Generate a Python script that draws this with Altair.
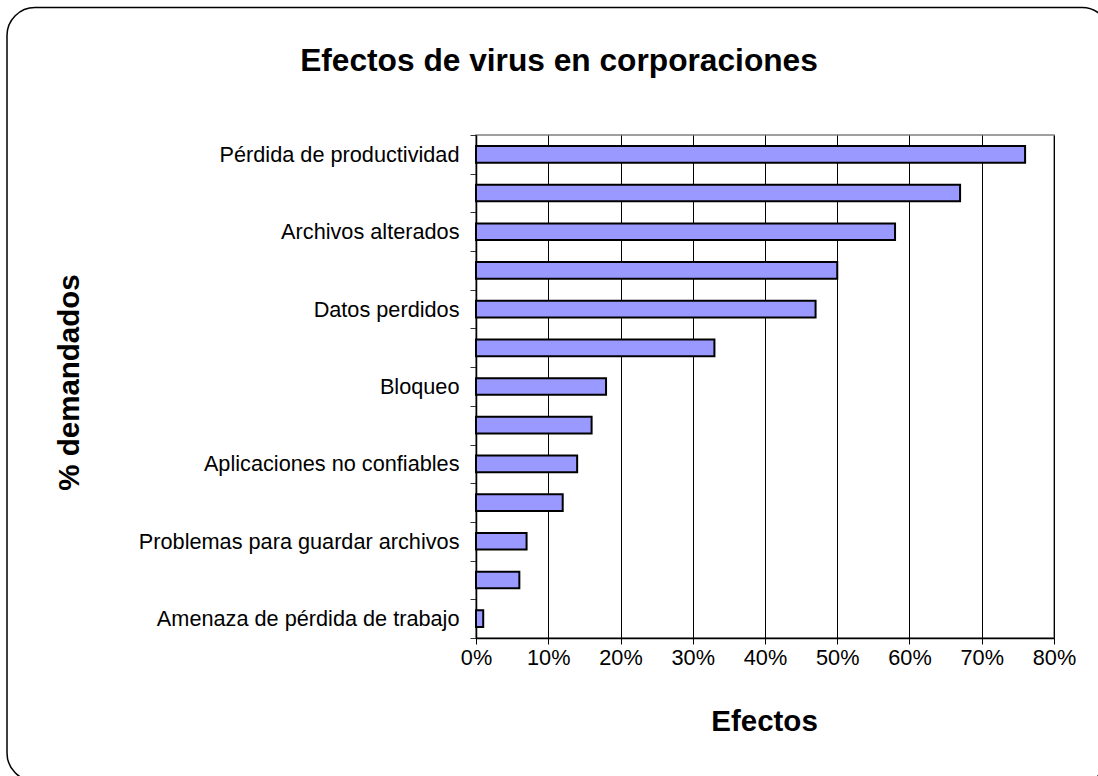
import json
import altair as alt
import pandas as pd

# Effects of viruses on corporations (share of respondents)
efectos = [
    "Pérdida de productividad",
    "",
    "Archivos alterados",
    "",
    "Datos perdidos",
    "",
    "Bloqueo",
    "",
    "Aplicaciones no confiables",
    "",
    "Problemas para guardar archivos",
    "",
    "Amenaza de pérdida de trabajo",
]
porcentajes = [0.76, 0.67, 0.58, 0.50, 0.47, 0.33, 0.18, 0.16, 0.14, 0.12, 0.07, 0.06, 0.01]
ticks_x = [0, 0.1, 0.2, 0.3, 0.4, 0.5, 0.6, 0.7, 0.8]

df = pd.DataFrame({
    "orden": list(range(len(porcentajes))),
    "efecto": efectos,
    "valor": porcentajes,
})

FONT = "Liberation Sans"
label_expr = json.dumps(efectos, ensure_ascii=False) + "[datum.value]"

# rounded frame around the whole chart
marco = alt.Chart(pd.DataFrame({"k": [0]})).mark_rect(
    fillOpacity=0, stroke="black", strokeWidth=1.5, cornerRadius=28
).encode(
    x=alt.value(-469), x2=alt.value(634),
    y=alt.value(-127.5), y2=alt.value(646),
)

barras = alt.Chart(df).mark_bar(
    fill="#9999FF", stroke="black", strokeWidth=2,
    height={"band": 0.43},
).encode(
    y=alt.Y(
        "orden:O",
        sort="ascending",
        scale=alt.Scale(paddingInner=0, paddingOuter=0),
        axis=alt.Axis(
            title="% demandados",
            labelExpr=label_expr,
            labelLimit=0,
            tickBand="extent",
            tickSize=6,
            tickColor="#333333",
            labelPadding=11,
            labelFont=FONT,
            labelFontSize=21.7,
            labelColor="black",
            domainColor="black",
            domainWidth=1.5,
            grid=False,
            titleFont=FONT,
            titleFontSize=29.5,
            titleFontWeight="bold",
            titleColor="black",
            titleAngle=270,
            titleAlign="center",
            titleBaseline="middle",
            titleX=-407,
            titleY=247,
        ),
    ),
    x=alt.X(
        "valor:Q",
        scale=alt.Scale(domain=[0, 0.8], nice=False),
        axis=alt.Axis(
            title="Efectos",
            values=ticks_x,
            format=".0%",
            labelFlush=False,
            tickSize=6,
            tickColor="black",
            labelPadding=3,
            labelFont=FONT,
            labelFontSize=21.7,
            labelColor="black",
            domainColor="black",
            domainWidth=1.5,
            grid=True,
            gridColor="black",
            gridWidth=1,
            gridOpacity=1,
            titleFont=FONT,
            titleFontSize=29.5,
            titleFontWeight="bold",
            titleColor="black",
            titleBaseline="alphabetic",
            titleX=288,
            titleY=92,
        ),
    ),
)

chart = alt.layer(marco, barras).properties(
    width=578,
    height=503,
    title=alt.Title(
        "Efectos de virus en corporaciones",
        font=FONT,
        fontSize=31.7,
        fontWeight="bold",
        color="black",
        anchor="middle",
        dx=-206,
        dy=160.5,
        baseline="alphabetic",
        offset=65,
    ),
    autosize=alt.AutoSizeParams(type="none"),
    padding={"left": 476, "top": 135, "right": 44, "bottom": 138},
    background="white",
).configure_view(
    stroke="#808080", strokeWidth=1.5
)

chart.save("out.html", embed_options={"renderer": "svg", "actions": False})
